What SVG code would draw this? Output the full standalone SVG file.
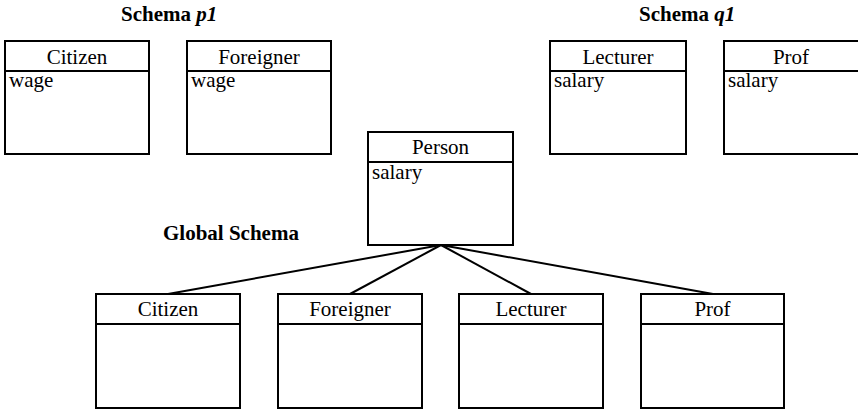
<svg xmlns="http://www.w3.org/2000/svg" width="858" height="410" viewBox="0 0 858 410">
  <style>
    .box { fill: #fff; stroke: #000; stroke-width: 2; }
    .sep { stroke: #000; stroke-width: 2; }
    .link { stroke: #000; stroke-width: 2; fill: none; }
    .title { font-family: "Liberation Serif", "Times New Roman", serif; font-size: 21px; fill: #000; text-anchor: middle; }
    .attr { font-family: "Liberation Serif", "Times New Roman", serif; font-size: 21px; fill: #000; }
    .head { font-family: "Liberation Serif", "Times New Roman", serif; font-size: 21px; font-weight: bold; fill: #000; }
  </style>
  <rect width="858" height="410" fill="#fff"/>

  <!-- schema headings -->
  <text class="head" x="121" y="21">Schema <tspan font-style="italic">p1</tspan></text>
  <text class="head" x="639" y="21">Schema <tspan font-style="italic">q1</tspan></text>
  <text class="head" x="163" y="240">Global Schema</text>

  <!-- generalisation connectors -->
  <g id="connectors">
    <line class="link" x1="441" y1="245" x2="168" y2="294"/>
    <line class="link" x1="441" y1="245" x2="350" y2="294"/>
    <line class="link" x1="441" y1="245" x2="531" y2="294"/>
    <line class="link" x1="441" y1="245" x2="713" y2="294"/>
  </g>

  <!-- schema p1 -->
  <g id="p1-citizen">
    <rect class="box" x="5" y="41" width="144" height="113"/>
    <line class="sep" x1="5" y1="71" x2="149" y2="71"/>
    <text class="title" x="77" y="64">Citizen</text>
    <text class="attr" x="9" y="87">wage</text>
  </g>
  <g id="p1-foreigner">
    <rect class="box" x="187" y="41" width="144" height="113"/>
    <line class="sep" x1="187" y1="71" x2="331" y2="71"/>
    <text class="title" x="259" y="64">Foreigner</text>
    <text class="attr" x="191" y="87">wage</text>
  </g>

  <!-- schema q1 -->
  <g id="q1-lecturer">
    <rect class="box" x="550" y="41" width="136" height="113"/>
    <line class="sep" x1="550" y1="71" x2="686" y2="71"/>
    <text class="title" x="618" y="64">Lecturer</text>
    <text class="attr" x="554" y="87">salary</text>
  </g>
  <g id="q1-prof">
    <rect class="box" x="724" y="41" width="136" height="113"/>
    <line class="sep" x1="724" y1="71" x2="860" y2="71"/>
    <text class="title" x="791" y="64">Prof</text>
    <text class="attr" x="728" y="87">salary</text>
  </g>

  <!-- global schema -->
  <g id="g-person">
    <rect class="box" x="368" y="132" width="145" height="113"/>
    <line class="sep" x1="368" y1="162" x2="513" y2="162"/>
    <text class="title" x="440.5" y="154">Person</text>
    <text class="attr" x="372" y="179">salary</text>
  </g>
  <g id="g-citizen">
    <rect class="box" x="96" y="294" width="144" height="114"/>
    <line class="sep" x1="96" y1="324" x2="240" y2="324"/>
    <text class="title" x="168" y="316">Citizen</text>
  </g>
  <g id="g-foreigner">
    <rect class="box" x="278" y="294" width="144" height="114"/>
    <line class="sep" x1="278" y1="324" x2="422" y2="324"/>
    <text class="title" x="350" y="316">Foreigner</text>
  </g>
  <g id="g-lecturer">
    <rect class="box" x="459" y="294" width="144" height="114"/>
    <line class="sep" x1="459" y1="324" x2="603" y2="324"/>
    <text class="title" x="531" y="316">Lecturer</text>
  </g>
  <g id="g-prof">
    <rect class="box" x="641" y="294" width="143" height="114"/>
    <line class="sep" x1="641" y1="324" x2="784" y2="324"/>
    <text class="title" x="712.5" y="316">Prof</text>
  </g>
</svg>
